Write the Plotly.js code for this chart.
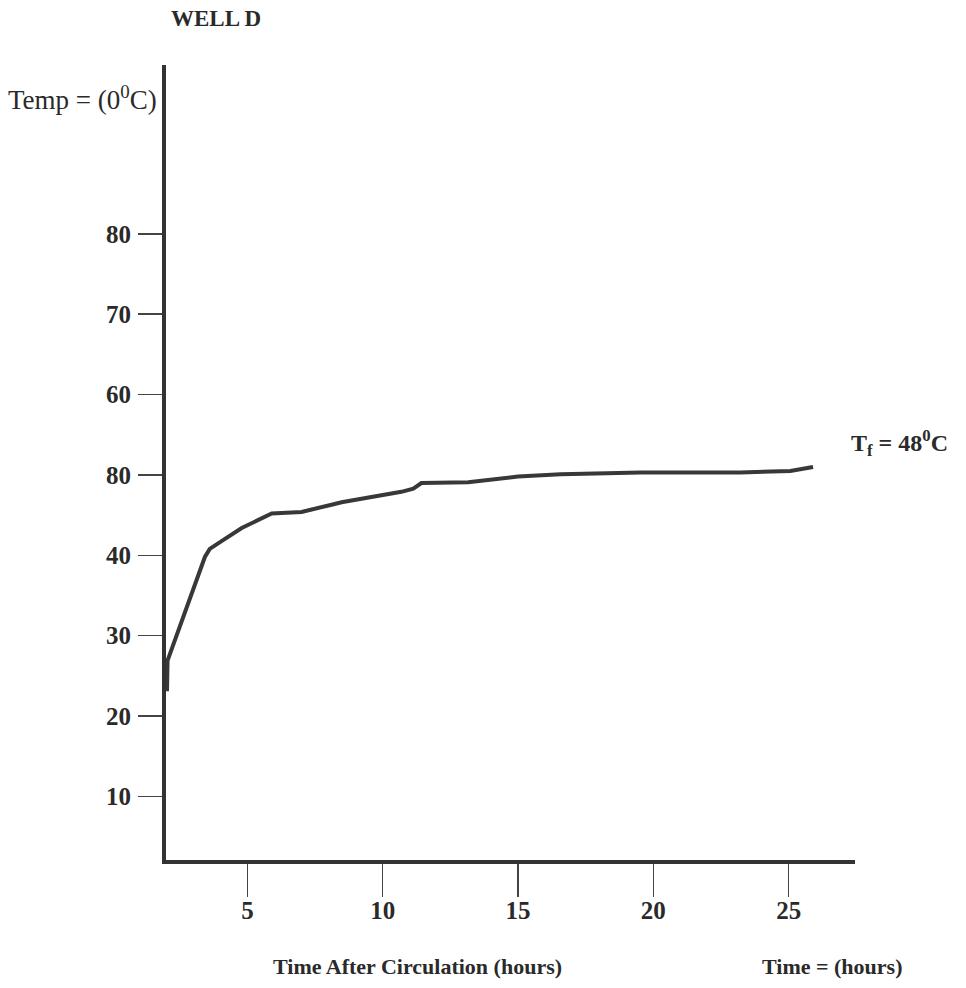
<!DOCTYPE html>
<html>
<head>
<meta charset="utf-8">
<script src="https://cdn.plot.ly/plotly-3.0.1.min.js"></script>
<style>html,body{margin:0;padding:0;background:#fff;}#chart{width:966px;height:988px;}</style>
</head>
<body>
<div id="chart"></div>
<script>
// Time after circulation (hours) and temperature (deg C)
const timeHours = [2.03, 2.05, 3.43, 3.61, 4.06, 4.79, 5.90, 7.00, 8.11, 8.48, 10.69, 11.13, 11.43, 13.16, 15.0, 16.58, 19.53, 23.21, 25.06, 25.9];
const tempC     = [23.1, 26.9, 39.8, 40.8, 41.8, 43.4, 45.2, 45.4, 46.3, 46.6, 47.9, 48.3, 49.0, 49.1, 49.8, 50.1, 50.3, 50.3, 50.5, 51.0];

const xTickVals = [5, 10, 15, 20, 25];
const xTickText = ['5', '10', '15', '20', '25'];
const yTickVals = [10, 20, 30, 40, 50, 60, 70, 80];
const yTickText = ['10', '20', '30', '40', '80', '60', '70', '80'];

const serif = 'Liberation Serif, Times New Roman, serif';
const ink = '#333333';

const trace = {
  x: timeHours, y: tempC, type: 'scatter', mode: 'lines',
  line: {color: '#383838', width: 4}, hoverinfo: 'skip', cliponaxis: false
};

const layout = {
  width: 966, height: 988,
  margin: {l: 166, r: 111, t: 65, b: 128},
  paper_bgcolor: '#ffffff', plot_bgcolor: '#ffffff',
  showlegend: false,
  xaxis: {
    range: [1.993, 27.45], showgrid: false, zeroline: false,
    showline: true, linewidth: 4, linecolor: ink,
    ticks: 'outside', ticklen: 33, tickwidth: 1.5, tickcolor: '#444',
    tickvals: xTickVals, ticktext: xTickText,
    tickfont: {family: serif, size: 25, color: '#2a2a2a', weight: 'bold'},
    ticklabelstandoff: -8
  },
  yaxis: {
    range: [2.1, 101.0], showgrid: false, zeroline: false,
    showline: true, linewidth: 4, linecolor: ink,
    ticks: 'outside', ticklen: 24, tickwidth: 1.5, tickcolor: '#444',
    tickvals: yTickVals, ticktext: yTickText,
    tickfont: {family: serif, size: 25, color: '#2a2a2a', weight: 'bold'},
    ticklabelstandoff: 2
  },
  annotations: [
    {text: '<b>WELL D</b>', xref: 'paper', yref: 'paper', x: 0.073, y: 1.058, xanchor: 'center', yanchor: 'middle',
     showarrow: false, font: {family: serif, size: 23, color: '#2a2a2a'}},
    {text: 'Temp = (0<sup>0</sup>C)', xref: 'paper', yref: 'paper', x: -0.232, y: 0.958, xanchor: 'left', yanchor: 'middle',
     showarrow: false, font: {family: serif, size: 27, color: '#2a2a2a'}},
    {text: '<b>T<sub>f</sub> = 48<sup>0</sup>C</b>', xref: 'paper', yref: 'paper', x: 0.992, y: 0.524, xanchor: 'left', yanchor: 'middle',
     showarrow: false, font: {family: serif, size: 24, color: '#2a2a2a'}},
    {text: '<b>Time After Circulation (hours)</b>', xref: 'paper', yref: 'paper', x: 0.365, y: -0.134, xanchor: 'center', yanchor: 'middle',
     showarrow: false, font: {family: serif, size: 22, color: '#2a2a2a'}},
    {text: '<b>Time = (hours)</b>', xref: 'paper', yref: 'paper', x: 0.966, y: -0.134, xanchor: 'center', yanchor: 'middle',
     showarrow: false, font: {family: serif, size: 22, color: '#2a2a2a'}}
  ]
};

Plotly.newPlot('chart', [trace], layout, {staticPlot: true, displayModeBar: false});
</script>
</body>
</html>
